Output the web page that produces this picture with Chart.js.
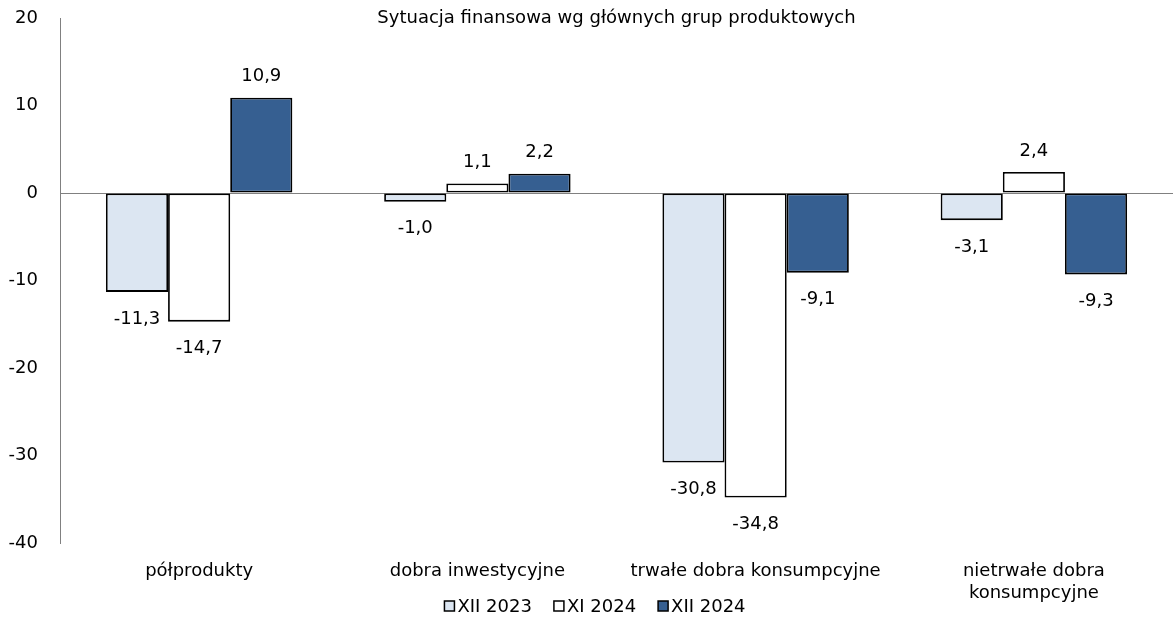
<!DOCTYPE html>
<html lang="pl">
<head>
<meta charset="utf-8">
<title>Sytuacja finansowa wg głównych grup produktowych</title>
<script src="https://cdn.jsdelivr.net/npm/chart.js@4.4.1/dist/chart.umd.min.js"></script>
<style>
  html, body { margin: 0; padding: 0; background: #ffffff; }
  #wrap { width: 1173px; height: 619px; position: relative; }
</style>
</head>
<body>
<div id="wrap"><canvas id="chart"></canvas></div>
<script>
// Kategorie i wartości
const categories = [
  'półprodukty',
  'dobra inwestycyjne',
  'trwałe dobra konsumpcyjne',
  ['nietrwałe dobra', 'konsumpcyjne']
];
const seriesNames = ['XII 2023', 'XI 2024', 'XII 2024'];
const xii2023 = [-11.3, -1.0, -30.8, -3.1];
const xi2024 = [-14.7, 1.1, -34.8, 2.4];
const xii2024 = [10.9, 2.2, -9.1, -9.3];
const yTicks = [-40, -30, -20, -10, 0, 10, 20];

const title = 'Sytuacja finansowa wg głównych grup produktowych';
const fillColors = ['#dce6f2', '#ffffff', '#365f91'];
const FONT = '"DejaVu Sans", Verdana, sans-serif';
const FS = 18;

const fmt = v => v.toFixed(1).replace('.', ',');

// Etykiety wartości nad / pod słupkami
const valueLabels = {
  id: 'valueLabels',
  afterDatasetsDraw(chart) {
    const ctx = chart.ctx;
    ctx.save();
    ctx.font = FS + 'px ' + FONT;
    ctx.fillStyle = '#000';
    ctx.textAlign = 'center';
    ctx.textBaseline = 'middle';
    chart.data.datasets.forEach((ds, i) => {
      chart.getDatasetMeta(i).data.forEach((bar, j) => {
        const v = ds.data[j];
        const y = v >= 0 ? bar.y - 21 : bar.y + 27;
        ctx.fillText(fmt(v), bar.x, y);
      });
    });
    ctx.restore();
  }
};

// Tytuł i legenda
const extras = {
  id: 'extras',
  afterDraw(chart) {
    const ctx = chart.ctx;
    const area = chart.chartArea;
    ctx.save();
    ctx.fillStyle = '#000';
    ctx.font = FS + 'px ' + FONT;
    ctx.textAlign = 'center';
    ctx.textBaseline = 'middle';
    ctx.fillText(title, (area.left + area.right) / 2, 18);

    // legenda
    const box = 10, gap = 3, itemGap = 22;
    const widths = seriesNames.map(n => box + gap + ctx.measureText(n).width);
    const total = widths.reduce((a, b) => a + b, 0) + itemGap * (seriesNames.length - 1);
    let x = 595 - total / 2;
    const cy = 606;
    ctx.textAlign = 'left';
    seriesNames.forEach((n, i) => {
      ctx.fillStyle = fillColors[i];
      ctx.fillRect(x, cy - box / 2, box, box);
      ctx.strokeStyle = '#000';
      ctx.lineWidth = 1.5;
      ctx.strokeRect(x, cy - box / 2, box, box);
      ctx.fillStyle = '#000';
      ctx.fillText(n, x + box + gap, cy + 1);
      x += widths[i] + itemGap;
    });
    ctx.restore();
  }
};

const datasets = [xii2023, xi2024, xii2024].map((d, i) => ({
  label: seriesNames[i],
  data: d,
  backgroundColor: fillColors[i],
  borderColor: '#000000',
  borderWidth: 1.8,
  borderSkipped: false,
  categoryPercentage: 0.67,
  barPercentage: 1.0
}));

new Chart(document.getElementById('chart'), {
  type: 'bar',
  data: { labels: categories, datasets: datasets },
  options: {
    responsive: true,
    maintainAspectRatio: false,
    animation: false,
    layout: { padding: { top: 18, right: 0, left: 0, bottom: 0 } },
    plugins: {
      legend: { display: false },
      title: { display: false },
      tooltip: { enabled: false }
    },
    scales: {
      x: {
        grid: { display: false },
        border: { display: false },
        ticks: {
          color: '#000',
          font: { family: FONT, size: FS, lineHeight: 1.22 },
          padding: 9,
          maxRotation: 0,
          autoSkip: false
        },
        afterFit(scale) {
          scale.height = 76;
          scale.paddingLeft = 0;
          scale.paddingRight = 0;
        }
      },
      y: {
        min: -40,
        max: 20,
        afterBuildTicks(scale) { scale.ticks = yTicks.map(v => ({ value: v })); },
        grid: {
          drawTicks: false,
          color: c => (c.tick && c.tick.value === 0 ? '#808080' : 'rgba(0,0,0,0)'),
          lineWidth: 1
        },
        border: { display: true, color: '#808080', width: 1 },
        ticks: {
          color: '#000',
          font: { family: FONT, size: FS },
          padding: 22,
          callback: v => String(v)
        },
        afterFit(scale) {
          scale.width = 60;
          scale.paddingTop = 0;
          scale.paddingBottom = 0;
        }
      }
    }
  },
  plugins: [valueLabels, extras]
});
</script>
</body>
</html>
